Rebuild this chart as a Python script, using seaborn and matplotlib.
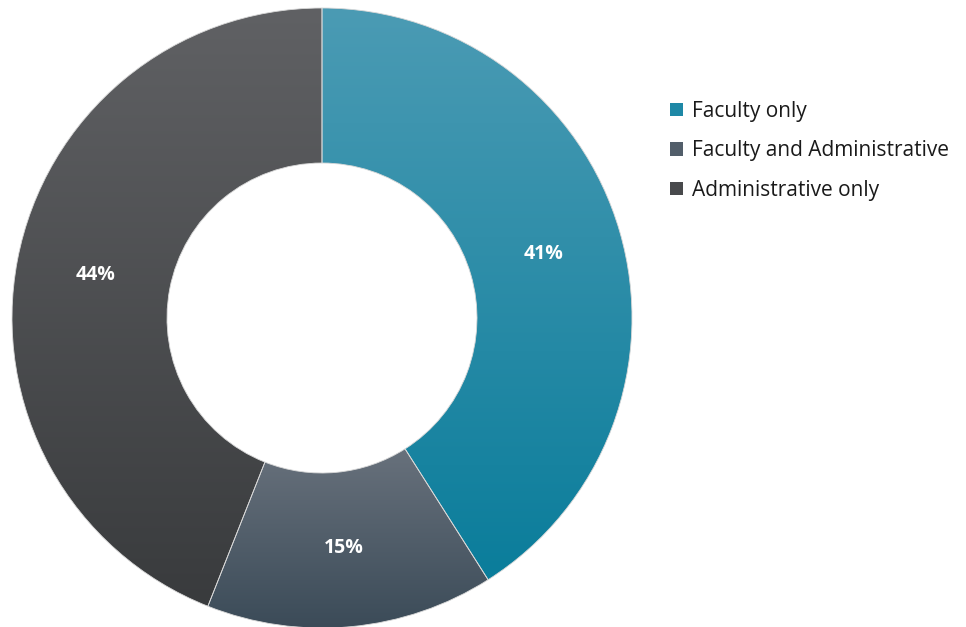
import matplotlib.pyplot as plt
import matplotlib
import seaborn as sns
import numpy as np
from matplotlib.colors import LinearSegmentedColormap
from matplotlib.patches import Patch

sns.set_theme(style="white")
plt.rcParams['font.family'] = ['Open Sans', 'DejaVu Sans']

categories = ['Faculty only', 'Faculty and Administrative', 'Administrative only']
shares = [41, 15, 44]
# gradient top / bottom colours per slice
top_colors = ['#4b9bb4', '#68717c', '#606164']
bottom_colors = ['#0a7d9b', '#3b4b58', '#393b3d']
legend_colors = ['#1e88a6', '#525e6a', '#48494c']

fig = plt.figure(figsize=(9.66, 6.27), dpi=100)
ax = fig.add_axes([12 / 966, (309 - 310) / 627, 620 / 966, 620 / 627])

wedges, texts, autotexts = ax.pie(
    shares, startangle=90, counterclock=False, radius=1,
    autopct='%d%%', pctdistance=0.745,
    wedgeprops=dict(width=0.5, facecolor='none', edgecolor='#d8d8d8', linewidth=0.6),
    textprops=dict(color='white', fontsize=14, fontweight='bold'))

for w, ct, cb in zip(wedges, top_colors, bottom_colors):
    x0, y0, x1, y1 = w.get_path().get_extents().extents
    cmap = LinearSegmentedColormap.from_list('g', [cb, ct])
    grad = np.linspace(0, 1, 256).reshape(-1, 1)
    im = ax.imshow(grad, cmap=cmap, extent=(x0, x1, y0, y1), origin='lower',
                   aspect='auto', interpolation='bicubic', zorder=1)
    im.set_clip_path(w)
    w.set_zorder(2)

for t in autotexts:
    t.set_zorder(3)

ax.set_xlim(-1, 1)
ax.set_ylim(-1, 1)
ax.set_aspect('equal')
ax.axis('off')

handles = [Patch(facecolor=c, edgecolor='none') for c in legend_colors]
fig.legend(handles, categories, loc='upper left', bbox_to_anchor=(670 / 966, 1 - 101 / 627),
           frameon=False, fontsize=15, handlelength=0.6, handleheight=0.6,
           handletextpad=0.45, labelspacing=0.88, borderpad=0, borderaxespad=0,
           labelcolor='#1a1a1a')

fig.savefig('out.png', dpi=100)
